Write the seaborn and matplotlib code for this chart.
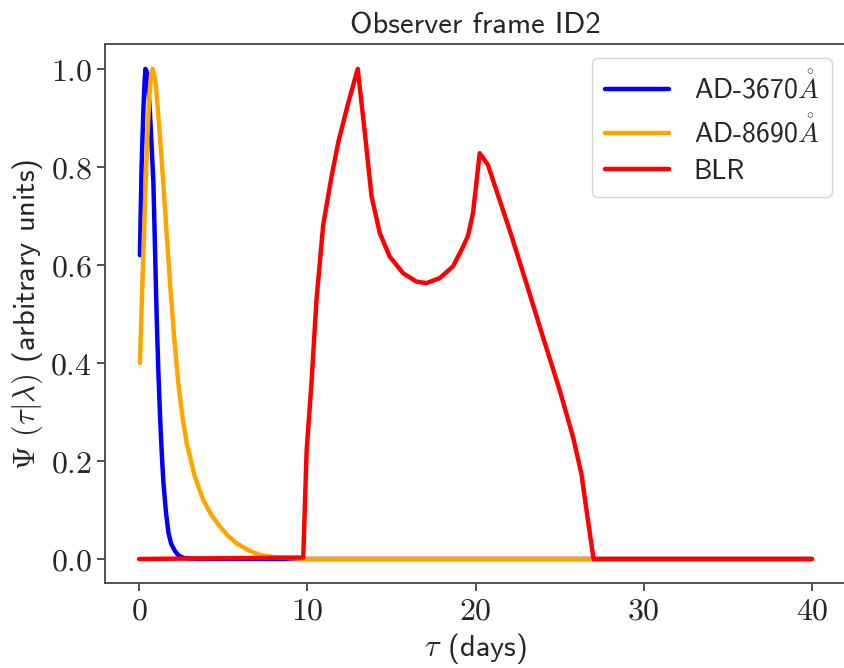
import numpy as np
import pandas as pd
import seaborn as sns
import matplotlib.pyplot as plt
from matplotlib.ticker import FuncFormatter

# values
tau_ad1 = [0.05, 0.15, 0.25, 0.32, 0.38, 0.45, 0.55, 0.65, 0.75, 0.85, 0.95, 1.05, 1.15,
           1.25, 1.35, 1.45, 1.6, 1.75, 1.9, 2.1, 2.3, 2.45, 2.7, 3.0, 3.5, 4.0, 6.0,
           10.0, 20.0, 30.0, 40.0]
psi_ad1 = [0.62, 0.80, 0.91, 0.97, 1.00, 0.995, 0.96, 0.91, 0.84, 0.77, 0.63, 0.49, 0.38,
           0.29, 0.215, 0.155, 0.095, 0.053, 0.032, 0.018, 0.009, 0.005, 0.002, 0.001,
           0.0, 0.0, 0.0, 0.0, 0.0, 0.0, 0.0]

tau_ad2 = [0.05, 0.26, 0.46, 0.6, 0.72, 0.81, 0.9, 1.0, 1.1, 1.2, 1.32, 1.44, 1.64, 1.84,
           2.08, 2.33, 2.58, 2.83, 3.3, 3.82, 4.3, 4.81, 5.3, 5.8, 6.5, 7.2, 8.0, 8.8,
           10.0, 20.0, 30.0, 40.0]
psi_ad2 = [0.40, 0.63, 0.835, 0.94, 0.99, 1.00, 0.99, 0.965, 0.925, 0.88, 0.825, 0.767,
           0.665, 0.563, 0.455, 0.359, 0.29, 0.237, 0.17, 0.12, 0.09, 0.066, 0.047, 0.032,
           0.018, 0.008, 0.004, 0.002, 0.0, 0.0, 0.0, 0.0]

tau_blr = [0.0, 9.76, 9.96, 10.25, 10.55, 10.94, 11.44, 11.84, 12.43, 13.0, 13.42, 13.82,
           14.31, 14.9, 15.7, 16.49, 17.08, 17.87, 18.66, 19.26, 19.56, 19.85, 20.25,
           20.74, 22.03, 23.02, 24.0, 25.0, 25.79, 26.29, 26.68, 27.02, 40.0]
psi_blr = [0.0, 0.003, 0.22, 0.36, 0.53, 0.68, 0.78, 0.85, 0.93, 1.0, 0.87, 0.74,
           0.665, 0.617, 0.583, 0.566, 0.563, 0.573, 0.597, 0.637, 0.66, 0.706, 0.828,
           0.804, 0.671, 0.563, 0.454, 0.345, 0.25, 0.175, 0.08, 0.0, 0.0]

labels = [r'AD-3670$\mathring{A}$', r'AD-8690$\mathring{A}$', 'BLR']
colors = ['blue', 'orange', 'red']

sns.set_style("ticks")
plt.rcParams['font.family'] = ['cmss10', 'DejaVu Sans']
plt.rcParams['mathtext.fontset'] = 'cm'
plt.rcParams['axes.unicode_minus'] = False

fig = plt.figure(figsize=(8.44, 6.68), dpi=100)
# the original picture is cut just at the right spine
ax = fig.add_axes([0.1249, 0.1265, 0.877, 0.807])

for t, p, lab, c in zip([tau_ad1, tau_ad2, tau_blr], [psi_ad1, psi_ad2, psi_blr], labels, colors):
    sns.lineplot(x=t, y=p, color=c, lw=3.2, label=lab, ax=ax)

ax.set_xlim(-2, 42)
ax.set_ylim(-0.05, 1.05)
ax.set_xticks([0, 10, 20, 30, 40])
ax.set_yticks([0.0, 0.2, 0.4, 0.6, 0.8, 1.0])
ax.xaxis.set_major_formatter(FuncFormatter(lambda v, pos: r'$%d$' % v))
ax.yaxis.set_major_formatter(FuncFormatter(lambda v, pos: r'$%.1f$' % v))
ax.tick_params(labelsize=23, length=6, width=1.2, color='#333333')
for s in ax.spines.values():
    s.set_color('#444444')
    s.set_linewidth(1.3)
ax.spines['right'].set_visible(False)

ax.set_title('Observer frame ID2', fontsize=22, pad=8)
ax.set_xlabel(r'$\tau$ (days)', fontsize=22)
ax.set_ylabel(r'$\Psi$ $(\tau|\lambda)$ (arbitrary units)', fontsize=22)

ax.legend(loc='upper right', fontsize=20, handlelength=2.3, borderpad=0.45,
          labelspacing=0.4, handletextpad=0.9)

plt.savefig('out.png', dpi=100)
